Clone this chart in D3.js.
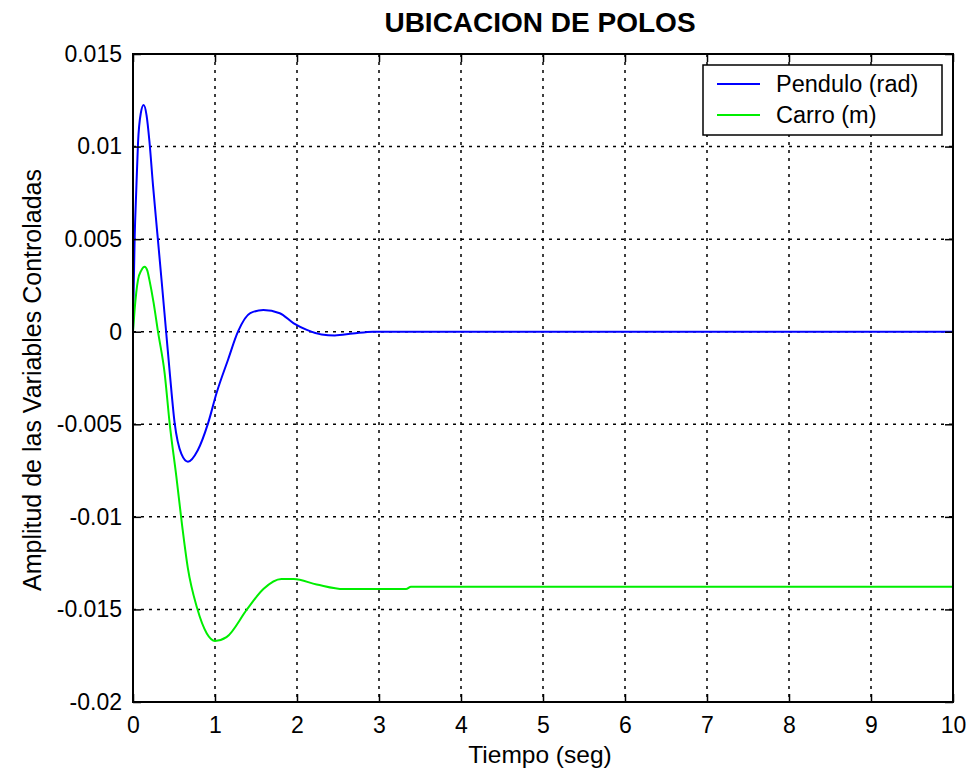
<!DOCTYPE html>
<html lang="en">
<head>
	<meta charset="utf-8">
	<title>Ubicacion de polos</title>
	<script src="https://d3js.org/d3.v7.min.js"></script>
	<style>
		body { margin: 0; background: #fff; font-family: Arial, "Liberation Sans", sans-serif; }
		svg text { font-family: Arial, "Liberation Sans", sans-serif; fill: #000; }
	</style>
</head>
<body>
<script>
	// step response of the two controlled variables
	var tPendulo = [0, 0.005, 0.02, 0.04, 0.061, 0.095, 0.13, 0.165, 0.2, 0.244, 0.297, 0.35, 0.4, 0.45, 0.507, 0.59, 0.67, 0.79, 0.915, 1.02, 1.16, 1.28, 1.43, 1.59, 1.79, 1.96, 2.12, 2.3, 2.46, 2.68, 2.93, 10];
	var pendulo = [0, 0.0015, 0.005, 0.00765, 0.01018, 0.0118, 0.01224, 0.0117, 0.0103, 0.0079, 0.0053, 0.0027, 0.0002, -0.0023, -0.0049, -0.0066, -0.00702, -0.0064, -0.00495, -0.0033, -0.0015, 0, 0.001, 0.00117, 0.001, 0.00045, 0.0001, -0.00015, -0.0002, -0.0001, 0, 0];

	var tCarro = [0, 0.02, 0.061, 0.1, 0.142, 0.175, 0.2, 0.25, 0.305, 0.386, 0.447, 0.528, 0.6, 0.67, 0.78, 0.9, 1.0, 1.14, 1.39, 1.59, 1.81, 1.96, 2.24, 2.57, 3.33, 3.39, 10];
	var carro = [0, 0.0012, 0.0028, 0.0033, 0.00351, 0.0033, 0.0028, 0.0016, 0, -0.00225, -0.00495, -0.0078, -0.0105, -0.0128, -0.0149, -0.0163, -0.0167, -0.0165, -0.015, -0.0139, -0.01336, -0.01336, -0.01365, -0.0139, -0.0139, -0.01378, -0.01378];

	var xTicks = [0, 1, 2, 3, 4, 5, 6, 7, 8, 9, 10];
	var yTicks = [-0.02, -0.015, -0.01, -0.005, 0, 0.005, 0.01, 0.015];
	var yTickLabels = ["-0.02", "-0.015", "-0.01", "-0.005", "0", "0.005", "0.01", "0.015"];
	var seriesNames = ["Pendulo (rad)", "Carro (m)"];
	var seriesColors = ["#0000ff", "#00ee00"];

	var w = 971, h = 771;
	var pLeft = 133, pTop = 54, pRight = 953, pBottom = 702;

	var xScale = d3.scaleLinear().domain([0, 10]).range([pLeft, pRight]);
	var yScale = d3.scaleLinear().domain([-0.02, 0.015]).range([pBottom, pTop]);

	var svg = d3.select("body").append("svg")
		.attr("width", w)
		.attr("height", h);

	// dotted grid
	var grid = svg.append("g").attr("class", "grid")
		.attr("stroke", "#000")
		.attr("stroke-width", 1.5)
		.attr("stroke-dasharray", "3,5");
	grid.selectAll("line.gx")
		.data(xTicks.slice(1, -1))
		.enter().append("line")
		.attr("class", "gx")
		.attr("x1", function (d) { return xScale(d); })
		.attr("x2", function (d) { return xScale(d); })
		.attr("y1", pTop)
		.attr("y2", pBottom);
	grid.selectAll("line.gy")
		.data(yTicks.slice(1, -1))
		.enter().append("line")
		.attr("class", "gy")
		.attr("x1", pLeft)
		.attr("x2", pRight)
		.attr("y1", function (d) { return yScale(d); })
		.attr("y2", function (d) { return yScale(d); });

	// curves
	var line = d3.line()
		.x(function (d) { return xScale(d[0]); })
		.y(function (d) { return yScale(d[1]); })
		.curve(d3.curveMonotoneX);

	var series = [d3.zip(tPendulo, pendulo), d3.zip(tCarro, carro)];
	svg.selectAll("path.curve")
		.data(series)
		.enter().append("path")
		.attr("class", "curve")
		.attr("fill", "none")
		.attr("stroke", function (d, i) { return seriesColors[i]; })
		.attr("stroke-width", 2)
		.attr("d", line);

	// axes, ticks inward on all four sides (matlab style)
	var tk = 8;
	svg.append("g")
		.attr("transform", "translate(0," + pBottom + ")")
		.call(d3.axisBottom(xScale).tickValues(xTicks).tickSize(-tk).tickPadding(15).tickFormat(d3.format("d")))
		.call(function (g) {
			g.select(".domain").remove();
			g.selectAll("line").attr("stroke-width", 1.5);
			g.selectAll("text").style("font-size", "23px");
		});
	svg.append("g")
		.attr("transform", "translate(0," + pTop + ")")
		.call(d3.axisTop(xScale).tickValues(xTicks).tickSize(-tk).tickFormat(""))
		.call(function (g) {
			g.select(".domain").remove();
			g.selectAll("line").attr("stroke-width", 1.5);
		});
	svg.append("g")
		.attr("transform", "translate(" + pLeft + ",0)")
		.call(d3.axisLeft(yScale).tickValues(yTicks).tickSize(-tk).tickPadding(11)
			.tickFormat(function (d, i) { return yTickLabels[i]; }))
		.call(function (g) {
			g.select(".domain").remove();
			g.selectAll("line").attr("stroke-width", 1.5);
			g.selectAll("text").style("font-size", "23px");
		});
	svg.append("g")
		.attr("transform", "translate(" + pRight + ",0)")
		.call(d3.axisRight(yScale).tickValues(yTicks).tickSize(-tk).tickFormat(""))
		.call(function (g) {
			g.select(".domain").remove();
			g.selectAll("line").attr("stroke-width", 1.5);
		});

	svg.append("rect")
		.attr("x", pLeft)
		.attr("y", pTop)
		.attr("width", pRight - pLeft)
		.attr("height", pBottom - pTop)
		.attr("fill", "none")
		.attr("stroke", "#000")
		.attr("stroke-width", 2);

	// titles
	svg.append("text")
		.attr("x", 540)
		.attr("y", 32)
		.attr("text-anchor", "middle")
		.style("font-size", "28px")
		.style("font-weight", "bold")
		.text("UBICACION DE POLOS");

	svg.append("text")
		.attr("x", 540)
		.attr("y", 763)
		.attr("text-anchor", "middle")
		.style("font-size", "24.5px")
		.text("Tiempo (seg)");

	svg.append("text")
		.attr("text-anchor", "middle")
		.attr("transform", "translate(41," + 380 + ")rotate(-90)")
		.style("font-size", "25px")
		.text("Amplitud de las Variables Controladas");

	// legend
	var lg = svg.append("g").attr("class", "legend");
	lg.append("rect")
		.attr("x", 703)
		.attr("y", 65)
		.attr("width", 239)
		.attr("height", 70)
		.attr("fill", "#fff")
		.attr("stroke", "#000")
		.attr("stroke-width", 1.5);
	var items = lg.selectAll("g.item")
		.data(seriesNames)
		.enter().append("g")
		.attr("class", "item")
		.attr("transform", function (d, i) { return "translate(0," + (84 + i * 31) + ")"; });
	items.append("line")
		.attr("x1", 717)
		.attr("x2", 760)
		.attr("stroke", function (d, i) { return seriesColors[i]; })
		.attr("stroke-width", 2);
	items.append("text")
		.attr("x", 776)
		.attr("dy", "0.35em")
		.style("font-size", "23.5px")
		.text(function (d) { return d; });
</script>
</body>
</html>
